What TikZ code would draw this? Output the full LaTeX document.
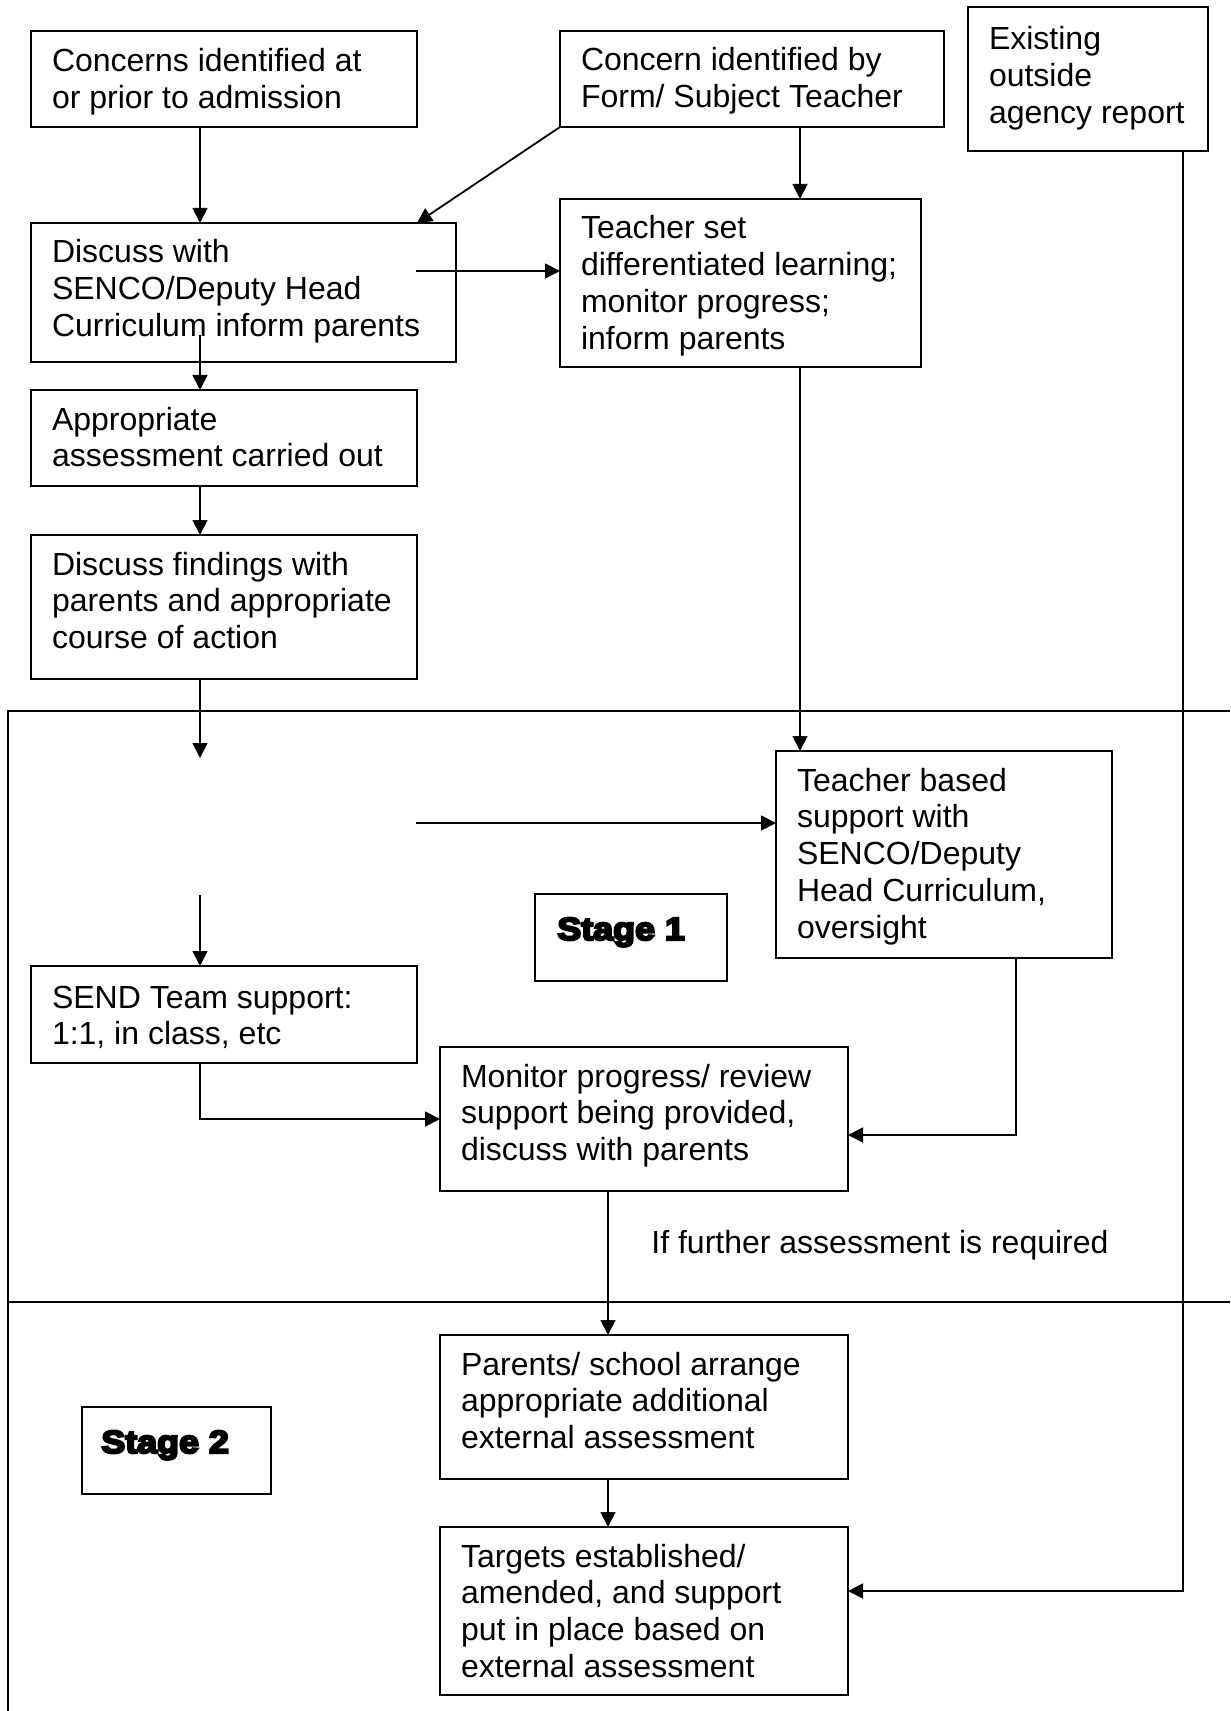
\documentclass[tikz,border=0pt]{standalone}
\usepackage{fontspec}
\setmainfont{Liberation Sans}
\newfontfamily\stagefont{Liberation Sans}[UprightFont=* Bold, FakeBold=7, FakeStretch=1.12]
\usetikzlibrary{arrows.meta,calc,fit}
\newcommand\bxo[7]{%
  \node[box, fit={(#2,#3) (#4,#5)}] (#1) {};
  \node[txt] (#1-t) at ($(#1.north west)+(21,#6)$) {\strut #7};}
\newcommand\bx[6]{\bxo{#1}{#2}{#3}{#4}{#5}{14.24}{#6}}
\begin{document}
\begin{tikzpicture}[x=0.5pt,y=-0.5pt,
  box/.style={draw, line width=1pt, inner sep=0pt, outer sep=0pt},
  txt/.style={anchor=north west, inner sep=0pt, outer sep=0pt, align=left, font=\fontsize{16}{18.4}\selectfont},
  arr/.style={line width=0.9pt, -{Triangle[length=7.5pt,width=7.5pt]}},
  frameline/.style={line width=1pt},
  stagetxt/.style={anchor=base west, inner sep=0pt, font=\stagefont\fontsize{16}{18.4}\selectfont}]
\useasboundingbox (0,0) rectangle (1230,1711);

% boxes
\bxo{A}{31}{31}{417}{127}{15.24}{Concerns identified at\\or prior to admission}
\bx{B}{560}{31}{944}{127}{Concern identified by\\Form/ Subject Teacher}
\bxo{C}{968}{7}{1208}{151}{17.24}{Existing\\outside\\agency report}
\bx{D}{31}{223}{456}{362}{Discuss with\\SENCO/Deputy Head\\Curriculum inform parents}
\bx{E}{560}{199}{921}{367}{Teacher set\\differentiated learning;\\monitor progress;\\inform parents}
\bx{F}{31}{390}{417}{486}{Appropriate\\assessment carried out}
\bx{G}{31}{535}{417}{679}{Discuss findings with\\parents and appropriate\\course of action}
\bx{H}{776}{751}{1112}{958}{Teacher based\\support with\\SENCO/Deputy\\Head Curriculum,\\oversight}
\bxo{I}{31}{966}{417}{1063}{16.24}{SEND Team support:\\1:1, in class, etc}
\bx{J}{440}{1047}{848}{1191}{Monitor progress/ review\\support being provided,\\discuss with parents}
\bx{K}{440}{1335}{848}{1479}{Parents/ school arrange\\appropriate additional\\external assessment}
\bx{L}{440}{1527}{848}{1695}{Targets established/\\amended, and support\\put in place based on\\external assessment}

% stage boxes
\node[box, fit={(535,894) (727,981)}] (S1) {};
\node[stagetxt] (S1t) at (557,940) {Stage 1};
\node[box, fit={(82,1407) (271,1494)}] (S2) {};
\node[stagetxt] (S2t) at (101,1453) {Stage 2};

\node[anchor=base west, inner sep=0pt, font=\fontsize{16}{18.4}\selectfont] (note) at (651,1253) {If further assessment is required};

% stage frame
\coordinate (fTL) at (8,711);
\coordinate (fTR) at (1230,711);
\coordinate (fML) at (8,1302);
\coordinate (fMR) at (1230,1302);
\coordinate (fBL) at (8,1711);
\draw[frameline] (fTR) -- (fTL) -- (fBL);
\draw[frameline] (fML) -- (fMR);

% columns and free ends
\coordinate (xL) at (200,0);
\coordinate (xDiag) at (417,0);
\coordinate (xM) at (800,0);
\coordinate (xK) at (608,0);
\coordinate (dE) at (416,271);
\coordinate (dF) at (200,335);
\coordinate (gEnd) at (200,758);
\coordinate (hS) at (416,823);
\coordinate (iS) at (200,895);
\coordinate (hj) at (1016,1135);
\coordinate (cl) at (1183,1591);

% connectors
\draw[arr] (A.south -| xL) -- (D.north -| xL);
\draw[arr] (B.south west) -- (D.north -| xDiag);
\draw[arr] (dE) -- (dE -| E.west);
\draw[arr] (dF) -- (dF |- F.north);
\draw[arr] (F.south -| xL) -- (G.north -| xL);
\draw[arr] (G.south -| xL) -- (gEnd);
\draw[arr] (hS) -- (hS -| H.west);
\draw[arr] (iS) -- (iS |- I.north);
\draw[arr] (B.south -| xM) -- (E.north -| xM);
\draw[arr] (E.south -| xM) -- (H.north -| xM);
\draw[arr] (I.south -| xL) |- (J.west);
\draw[arr] (H.south -| hj) -- (hj) -- (hj -| J.east);
\draw[arr] (J.south -| xK) -- (K.north -| xK);
\draw[arr] (K.south -| xK) -- (L.north -| xK);
\draw[arr] (C.south -| cl) -- (cl) -- (cl -| L.east);
\end{tikzpicture}
\end{document}
